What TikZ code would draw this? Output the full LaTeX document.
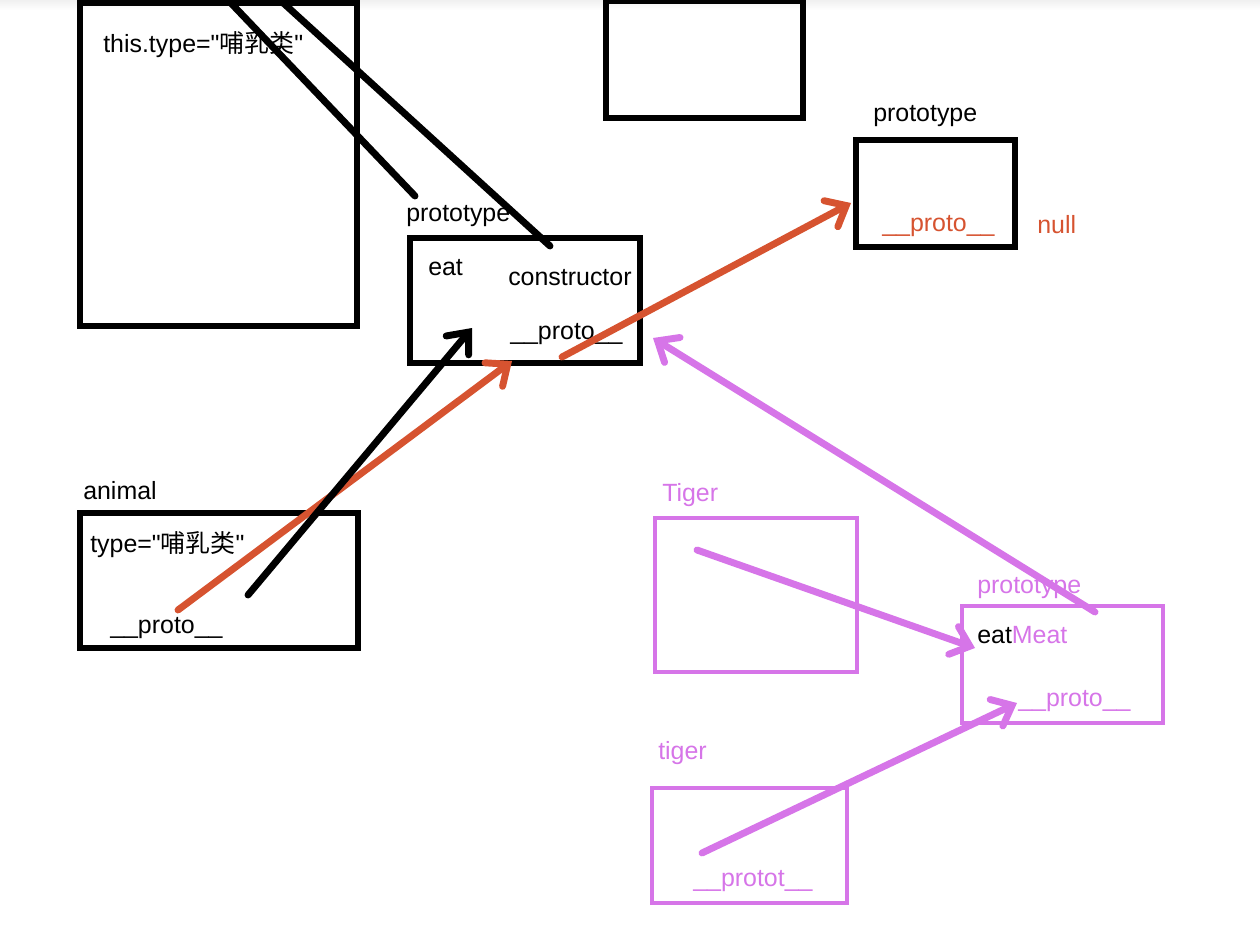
\documentclass[tikz,border=0pt]{standalone}
\usepackage{fontspec}
\setmainfont{Liberation Sans}
\newfontfamily\cjk{Noto Sans CJK SC}
\usetikzlibrary{arrows.meta,fit}
\definecolor{redc}{RGB}{214,83,48}
\definecolor{purp}{RGB}{214,117,232}
\newcommand{\dq}{\XeTeXglyph\XeTeXcharglyph"22\relax}
\tikzset{
  box/.style={draw=black, line width=3.8pt, inner sep=0pt},
  pbox/.style={draw=purp, line width=3.4pt, inner sep=0pt},
  lbl/.style={anchor=west, inner sep=0pt, font=\fontsize{18.7}{22}\selectfont},
  conn/.style={line width=5.2pt, line cap=round},
  arr/.style={conn, -{Straight Barb[length=13pt,width=22pt,line cap=round]}},
}
\begin{document}
\begin{tikzpicture}[x=0.75pt,y=-0.75pt]
\useasboundingbox (0,0) rectangle (1260,942);
\shade[top color=gray!12, bottom color=white] (0,0) rectangle (1260,10);
% boxes
\node[box, fit={(80,3) (357,326)}] (A) {};
\node[box, fit={(606,1) (803,118)}] (T) {};
\node[box, fit={(410,238) (640,363)}] (AP) {};
\node[box, fit={(856,140) (1015,247)}] (OP) {};
\node[box, fit={(80,513) (358,648)}] (an) {};
\node[pbox, fit={(655,518) (857,672)}] (Tg) {};
\node[pbox, fit={(962,606) (1163,723)}] (TP) {};
\node[pbox, fit={(652,788) (847,903)}] (tg) {};
% texts
\node[lbl] (t1) at (103,45) {this.type=\dq{\cjk 哺乳类}\dq};
\node[lbl] (apl) at (406,216) {prototype};
\node[lbl] (eat) at (428,268) {eat};
\node[lbl] (cons) at (508,278) {constructor};
\node[lbl] (app) at (510,334) {\_\_proto\_\_};
\node[lbl] (opl) at (873,116) {prototype};
\node[lbl, text=redc] (opp) at (882,226) {\_\_proto\_\_};
\node[lbl, text=redc] (null) at (1037,225) {null};
\node[lbl] (anl) at (83,491) {animal};
\node[lbl] (ant) at (90,545) {type=\dq{\cjk 哺乳类}\dq};
\node[lbl] (anp) at (110,628) {\_\_proto\_\_};
\node[lbl, text=purp] (Tgl) at (662,495) {Tiger};
\node[lbl, text=purp] (TPl) at (977,588) {prototype};
\node[lbl] (TPe) at (977,635) {eat\textcolor{purp}{Meat}};
\node[lbl, text=purp] (TPp) at (1018,701) {\_\_proto\_\_};
\node[lbl, text=purp] (tgl) at (658,753) {tiger};
\node[lbl, text=purp] (tgp) at (693,881) {\_\_protot\_\_};
% coordinates
\coordinate (c1) at (228,0);
\coordinate (c2) at (415,196);
\coordinate (c3) at (280,0);
\coordinate (c4) at (550,246);
\coordinate (c5) at (248,595);
\coordinate (c6) at (472,328);
\coordinate (c7) at (178,610);
\coordinate (c8) at (512,361);
\coordinate (c9) at (562,357);
\coordinate (c10) at (851,203);
\coordinate (c11) at (1095,612);
\coordinate (c12) at (653,338);
\coordinate (c13) at (697,550);
\coordinate (c14) at (975,648);
\coordinate (c15) at (702,853);
\coordinate (c16) at (1017,703);
% connectors
\draw[conn] (c1) -- (c2);
\draw[conn] (c3) -- (c4);
\draw[arr, redc] (c7) -- (c8);
\draw[arr, black] (c5) -- (c6);
\draw[arr, redc] (c9) -- (c10);
\draw[arr, purp] (c11) -- (c12);
\draw[arr, purp] (c13) -- (c14);
\draw[arr, purp] (c15) -- (c16);
\end{tikzpicture}
\end{document}
